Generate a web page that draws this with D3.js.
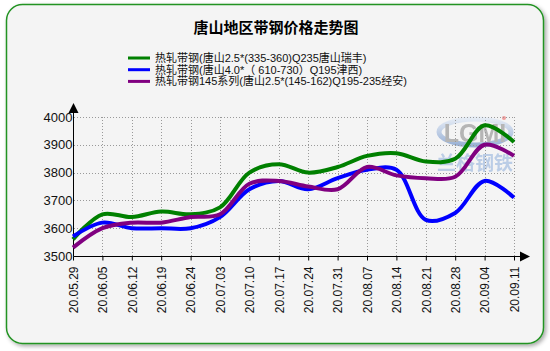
<!DOCTYPE html>
<html>
<head>
<meta charset="utf-8">
<script src="https://cdn.jsdelivr.net/npm/d3@7"></script>
<style>
  body { margin: 0; background: #fff; }
  svg { display: block; }
</style>
</head>
<body>
<div id="chart"></div>
<script>
// dates on the x axis
const dates = ["20.05.29", "20.06.05", "20.06.12", "20.06.19", "20.06.24", "20.07.03", "20.07.10", "20.07.17",
  "20.07.24", "20.07.31", "20.08.07", "20.08.14", "20.08.21", "20.08.28", "20.09.04", "20.09.11"];

const seriesNames = [
  "热轧带钢(唐山2.5*(335-360)Q235唐山瑞丰)",
  "热轧带钢(唐山4.0*（ 610-730）Q195津西)",
  "热轧带钢145系列(唐山2.5*(145-162)Q195-235经安)"
];
const seriesColors = ["#008000", "#0000ff", "#800080"];

// prices, one array per series
const ruifeng = [3560, 3650, 3640, 3660, 3650, 3675, 3800, 3830, 3800, 3820, 3860, 3870, 3840, 3850, 3970, 3910];
const jinxi   = [3570, 3620, 3600, 3600, 3600, 3640, 3740, 3770, 3740, 3780, 3810, 3810, 3630, 3655, 3770, 3710];
const jingan  = [3530, 3600, 3620, 3620, 3640, 3650, 3760, 3770, 3750, 3740, 3820, 3790, 3780, 3785, 3900, 3860];

const yTicks = [3500, 3600, 3700, 3800, 3900, 4000];

const W = 550, H = 351;
const svg = d3.select("#chart").append("svg")
  .attr("width", W).attr("height", H);

const defs = svg.append("defs");
const f = defs.append("filter").attr("id", "shadow")
  .attr("x", "-5%").attr("y", "-5%").attr("width", "110%").attr("height", "110%");
f.append("feDropShadow").attr("dx", 2).attr("dy", 2).attr("stdDeviation", 2)
  .attr("flood-color", "#000").attr("flood-opacity", 0.35);

const ring = defs.append("linearGradient").attr("id", "ring")
  .attr("x1", 0).attr("y1", 0).attr("x2", 0).attr("y2", 1);
ring.append("stop").attr("offset", 0).attr("stop-color", "#dfe8f5");
ring.append("stop").attr("offset", 1).attr("stop-color", "#7d9ccc");

// frame
svg.append("rect")
  .attr("x", 6.5).attr("y", 4.5).attr("width", 537).attr("height", 339)
  .attr("rx", 16).attr("ry", 16)
  .attr("fill", "#f4f4f4")
  .attr("stroke", "#239323").attr("stroke-width", 1.5)
  .attr("filter", "url(#shadow)");

// title
svg.append("text")
  .attr("x", 276).attr("y", 33)
  .attr("text-anchor", "middle")
  .style("font", "bold 15px 'Noto Sans CJK SC', sans-serif")
  .attr("fill", "#000")
  .text("唐山地区带钢价格走势图");

// legend
const legend = svg.append("g");
seriesNames.forEach((name, i) => {
  const ly = 58 + i * 11.7;
  legend.append("line")
    .attr("x1", 128).attr("x2", 150).attr("y1", ly).attr("y2", ly)
    .attr("stroke", seriesColors[i]).attr("stroke-width", 3);
  legend.append("text")
    .attr("x", 155).attr("y", ly + 4)
    .style("font", "11px 'Liberation Sans', 'Noto Sans CJK SC', sans-serif")
    .attr("fill", "#111")
    .text(name);
});

const x = d3.scalePoint().domain(dates).range([73, 514]);
const y = d3.scaleLinear().domain([3500, 4000]).range([256, 117]);

// watermark
const wm = svg.append("g").attr("opacity", 0.75);
wm.append("ellipse")
  .attr("cx", 475).attr("cy", 132).attr("rx", 36).attr("ry", 13)
  .attr("fill", "none").attr("stroke", "url(#ring)").attr("stroke-width", 5);
wm.append("text")
  .attr("x", 475).attr("y", 142).attr("text-anchor", "middle")
  .style("font", "bold 25px 'Liberation Sans', sans-serif")
  .attr("fill", "#a0a0a0")
  .text("LGMI");
wm.append("circle").attr("cx", 504).attr("cy", 118).attr("r", 2).attr("fill", "#f08080");
wm.append("text")
  .attr("x", 475).attr("y", 170).attr("text-anchor", "middle")
  .style("font", "bold 19px 'Noto Sans CJK SC', sans-serif")
  .attr("fill", "#a9c0e2")
  .text("兰格钢铁");

// grid
const grid = svg.append("g")
  .attr("stroke", "#999").attr("stroke-width", 1).attr("stroke-dasharray", "1,2");
grid.selectAll("line.h")
  .data(yTicks.slice(1))
  .join("line")
  .attr("x1", 74).attr("x2", 514)
  .attr("y1", d => Math.round(y(d)) + 0.5).attr("y2", d => Math.round(y(d)) + 0.5);
grid.selectAll("line.v")
  .data(dates.slice(1))
  .join("line")
  .attr("x1", d => Math.round(x(d)) + 0.5).attr("x2", d => Math.round(x(d)) + 0.5)
  .attr("y1", 117).attr("y2", 256);

// axes
const xAxis = svg.append("g")
  .attr("transform", `translate(0,${Math.round(y(3500)) + 0.5})`)
  .call(d3.axisBottom(x).tickSize(4));
xAxis.select(".domain").remove();
xAxis.selectAll("text")
  .attr("text-anchor", "end")
  .attr("x", -10).attr("y", 0)
  .attr("dy", "0.35em")
  .attr("transform", "rotate(-90)")
  .style("font", "12px 'Liberation Sans', Arial, sans-serif")
  .attr("fill", "#111");

const yAxis = svg.append("g")
  .attr("transform", `translate(${Math.round(x(dates[0])) + 0.5},0)`)
  .call(d3.axisLeft(y).tickValues(yTicks).tickFormat(d3.format("d")).tickSize(0).tickPadding(1));
yAxis.select(".domain").remove();
yAxis.selectAll("text")
  .style("font", "13px 'Liberation Sans', Arial, sans-serif")
  .attr("fill", "#111");

const ax0 = Math.round(x(dates[0])) + 0.5, ay0 = Math.round(y(3500)) + 0.5;
svg.append("line").attr("x1", ax0).attr("x2", ax0).attr("y1", ay0).attr("y2", 112)
  .attr("stroke", "#000");
svg.append("line").attr("x1", ax0).attr("x2", 522).attr("y1", ay0).attr("y2", ay0)
  .attr("stroke", "#000");
svg.append("path").attr("d", `M${ax0 - 5},113L${ax0},103L${ax0 + 5},113Z`).attr("fill", "#000");
svg.append("path").attr("d", `M520,${ay0 - 5}L530,${ay0}L520,${ay0 + 5}Z`).attr("fill", "#000");

// lines
const line = d3.line()
  .x((d, i) => x(dates[i]))
  .y(d => y(d))
  .curve(d3.curveCatmullRom.alpha(0.5));

[ruifeng, jinxi, jingan].forEach((vals, i) => {
  svg.append("path")
    .datum(vals)
    .attr("fill", "none")
    .attr("stroke", seriesColors[i])
    .attr("stroke-width", 4)
    .attr("stroke-linejoin", "round")
    .attr("d", line);
});
</script>
</body>
</html>
